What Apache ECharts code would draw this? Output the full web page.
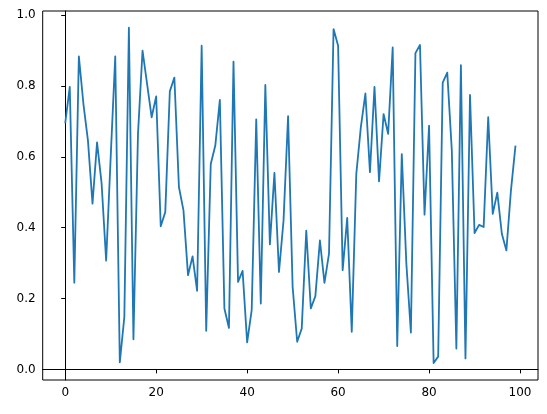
<!DOCTYPE html>
<html>
<head>
<meta charset="utf-8">
<script src="https://cdn.jsdelivr.net/npm/echarts@6/dist/echarts.min.js"></script>
<style>
  html, body { margin: 0; padding: 0; background: #fff; }
  #chart { width: 547px; height: 414px; }
</style>
</head>
<body>
<div id="chart"></div>
<script>
// values, one per index 0..99
var values = [
  0.695, 0.798, 0.245, 0.884, 0.750, 0.646, 0.468, 0.641, 0.525, 0.307,
  0.600, 0.884, 0.020, 0.148, 0.965, 0.085, 0.665, 0.900, 0.806, 0.712,
  0.771, 0.404, 0.444, 0.785, 0.824, 0.515, 0.449, 0.266, 0.319, 0.222,
  0.914, 0.109, 0.580, 0.632, 0.761, 0.172, 0.117, 0.869, 0.247, 0.278,
  0.076, 0.167, 0.706, 0.186, 0.803, 0.353, 0.555, 0.275, 0.420, 0.715,
  0.233, 0.078, 0.115, 0.392, 0.172, 0.207, 0.364, 0.244, 0.327, 0.961,
  0.914, 0.280, 0.428, 0.106, 0.552, 0.684, 0.779, 0.557, 0.798, 0.531,
  0.721, 0.665, 0.909, 0.066, 0.608, 0.300, 0.104, 0.893, 0.916, 0.437,
  0.688, 0.018, 0.036, 0.810, 0.838, 0.618, 0.059, 0.859, 0.031, 0.775,
  0.385, 0.408, 0.402, 0.712, 0.439, 0.499, 0.383, 0.336, 0.505, 0.632
];
var xTicks = [0, 20, 40, 60, 80, 100];
var yTicks = [0.0, 0.2, 0.4, 0.6, 0.8, 1.0];

var points = values.map(function(v, i) { return [i, v]; });

var chart = echarts.init(document.getElementById('chart'));
var labelStyle = { fontFamily: 'DejaVu Sans', fontSize: 12, color: '#000' };

chart.setOption({
  animation: false,
  grid: {
    left: 42.7, right: 9, top: 11, bottom: 34,
    show: true, borderColor: '#000', borderWidth: 1, backgroundColor: '#fff'
  },
  xAxis: {
    type: 'value',
    min: -4.95, max: 103.95,
    splitLine: { show: false },
    axisLine: { show: true, lineStyle: { color: '#000', width: 1 } },
    axisTick: { show: true, inside: false, length: 4, customValues: xTicks, lineStyle: { color: '#000' } },
    axisLabel: Object.assign({ margin: 7, customValues: xTicks }, labelStyle)
  },
  yAxis: {
    type: 'value',
    min: -0.030, max: 1.012,
    splitLine: { show: false },
    axisLine: { show: true, lineStyle: { color: '#000', width: 1 } },
    axisTick: { show: true, inside: false, length: 4, customValues: yTicks, lineStyle: { color: '#000' } },
    axisLabel: Object.assign({
      margin: 7, customValues: yTicks,
      formatter: function(v) { return v.toFixed(1); }
    }, labelStyle)
  },
  series: [{
    type: 'line',
    data: points,
    showSymbol: false,
    lineStyle: { color: '#1f77b4', width: 1.8, join: 'round' },
    itemStyle: { color: '#1f77b4' }
  }]
});
</script>
</body>
</html>
